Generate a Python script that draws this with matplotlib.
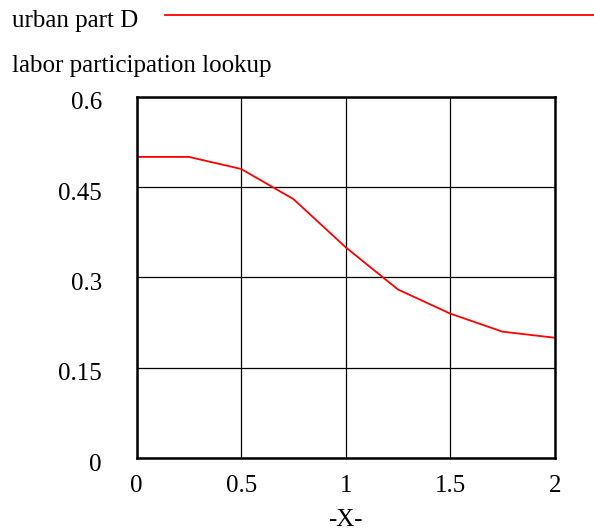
import matplotlib
matplotlib.use('Agg')
import matplotlib.pyplot as plt
from matplotlib.transforms import ScaledTranslation

x_vals = [0, 0.25, 0.5, 0.75, 1.0, 1.25, 1.5, 1.75, 2.0]
y_vals = [0.5, 0.5, 0.48, 0.43, 0.35, 0.28, 0.24, 0.21, 0.20]
x_ticks = [0, 0.5, 1, 1.5, 2]
x_labels = ['0', '0.5', '1', '1.5', '2']
y_ticks = [0, 0.15, 0.3, 0.45, 0.6]
y_labels = ['0', '0.15', '0.3', '0.45', '0.6']

plt.rcParams['font.family'] = ['Liberation Serif', 'DejaVu Serif']

fig = plt.figure(figsize=(5.94, 5.31), dpi=100)
ax = fig.add_axes([0.230, 0.137, 0.704, 0.681])

ax.plot(x_vals, y_vals, color='red', linewidth=1.3)
ax.set_xlim(0, 2)
ax.set_ylim(0, 0.6)
ax.set_xticks(x_ticks)
ax.set_xticklabels(x_labels)
ax.set_yticks(y_ticks)
ax.set_yticklabels(y_labels)
ax.tick_params(length=0, labelsize=18)
ax.tick_params(axis='x', pad=12)
ax.tick_params(axis='y', pad=25)
# y labels sit a little below their gridlines in the original
for lbl in ax.get_yticklabels():
    lbl.set_transform(lbl.get_transform() + ScaledTranslation(0, -4 / 100, fig.dpi_scale_trans))
ax.grid(True, color='black', linewidth=0.9)
for s in ax.spines.values():
    s.set_linewidth(1.8)
ax.set_xlabel('-X-', fontsize=18, labelpad=9)

fig.text(0.02, 0.949, 'urban part D', fontsize=18, va='baseline', ha='left')
fig.add_artist(plt.Line2D([0.278, 1.0], [0.972, 0.972], color='red', linewidth=1.3))
fig.text(0.02, 0.864, 'labor participation lookup', fontsize=18, va='baseline', ha='left')

fig.savefig('out.png', dpi=100)
